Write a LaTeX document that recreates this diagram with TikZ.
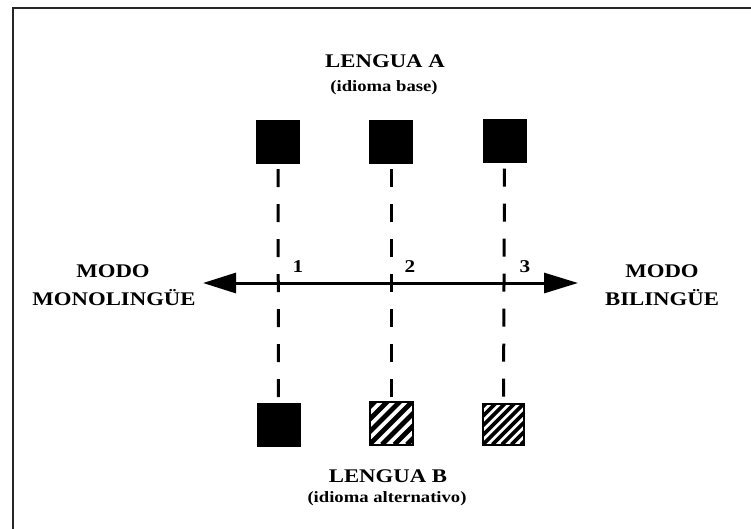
\documentclass[tikz,border=0pt]{standalone}
\usepackage{fontspec}
\newfontfamily\lblfont{Liberation Serif}[FakeStretch=1.18]
\usetikzlibrary{arrows.meta}
\tikzset{
  every node/.style={inner sep=0pt, outer sep=0pt},
  lbl/.style={font=\lblfont\bfseries\fontsize{19.3}{21}\selectfont, anchor=base},
  sublbl/.style={font=\lblfont\bfseries\fontsize{15.8}{17}\selectfont, anchor=base},
  numlbl/.style={font=\lblfont\bfseries\fontsize{18}{20}\selectfont, anchor=base},
  solidbox/.style={minimum size=43pt, fill=black, draw=black, line width=1pt},
  hatchbox/.style n args={3}{minimum size=#3, draw=black, line width=2pt, fill=white,
    path picture={
      \foreach \i in {-9,...,9}
        \draw[line width=#2] (path picture bounding box.south west) ++({\i*#1},0) -- ++(70,-70);
    }},
  link/.style={line width=3pt, dash pattern=on 18pt off 17pt, dash phase=29pt},
  axis/.style={line width=3pt, {Triangle[length=33pt,width=20pt]}-{Triangle[length=34pt,width=20pt]}},
  frameline/.style={line width=2.4pt, black!85, line join=miter}
}
\begin{document}
\begin{tikzpicture}[x=1pt,y=-1pt]
\useasboundingbox (0,0) rectangle (751,528);
\fill[white] (0,0) rectangle (751,528);

% outer frame (left and top edges)
\draw[frameline] (13,540) -- (13,8) -- (760,8);

% language A squares
\node[solidbox] (a1) at (278,141.5) {};
\node[solidbox] (a2) at (391,141.5) {};
\node[solidbox] (a3) at (504.5,141) {};

% language B squares
\node[solidbox] (b1) at (278.5,424.5) {};
\node[hatchbox={12.5}{4.8pt}{43pt}] (b2) at (391,423) {};
\node[hatchbox={9.5}{3.6pt}{41pt}] (b3) at (503.5,424) {};

% dashed links
\draw[link] (a1.south) -- (b1.north);
\draw[link] (a2.south) -- (b2.north);
\draw[link] (a3.south) -- (b3.north);

% mode axis
\coordinate (L) at (203,283);
\coordinate (R) at (578,283);
\draw[axis] (L) -- (R);

% labels
\node[lbl] (la) at (385,67.5) {LENGUA A};
\node[sublbl] (las) at (384,91.5) {(idioma base)};
\node[lbl] (lb) at (388,482.5) {LENGUA B};
\node[sublbl] (lbs) at (387,502.5) {(idioma alternativo)};

\node[lbl] (m1) at (113,277) {MODO};
\node[lbl] (m2) at (114,305) {MONOLINGÜE};
\node[lbl] (n1) at (662,277) {MODO};
\node[lbl] (n2) at (662,305) {BILINGÜE};

\node[numlbl] (p1) at (298,272) {1};
\node[numlbl] (p2) at (410,272) {2};
\node[numlbl] (p3) at (525,272) {3};
\end{tikzpicture}
\end{document}
